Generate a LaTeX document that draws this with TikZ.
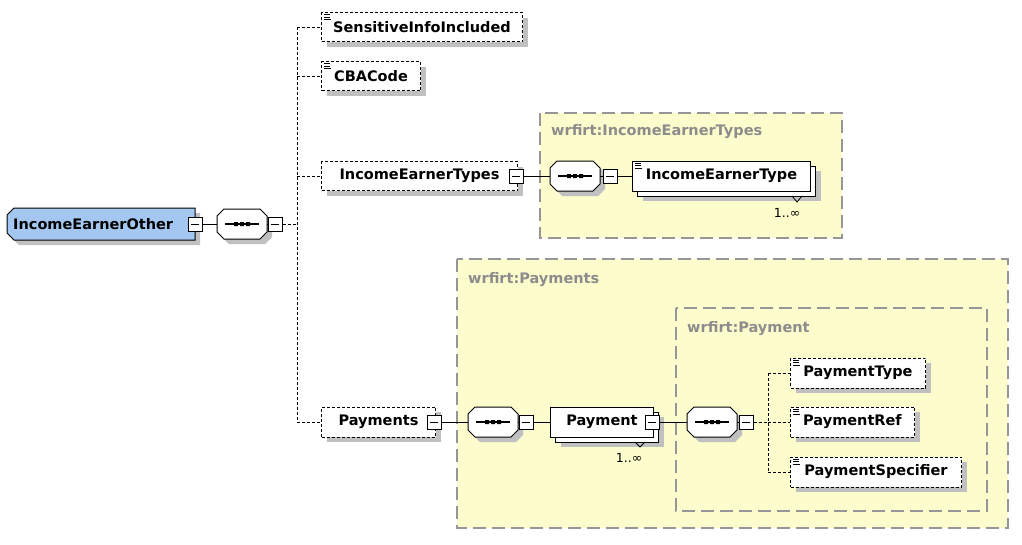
\documentclass[tikz,border=0pt]{standalone}
\usepackage{fontspec}
\setmainfont{DejaVu Sans}
\usetikzlibrary{calc}
\definecolor{ybg}{RGB}{252,252,204}
\definecolor{yborder}{RGB}{150,150,150}
\definecolor{ylabel}{RGB}{140,140,140}
\definecolor{shadowc}{RGB}{192,192,192}
\definecolor{blueel}{RGB}{163,199,240}
\newcommand\seqbox[3]{%
  \begin{scope}[shift={(#2,#3)}]
    \fill[shadowc] (-18+5,-15+5) -- (18+5,-15+5) -- (25+5,-8+5) -- (25+5,8+5) -- (18+5,15+5) -- (-18+5,15+5) -- (-25+5,8+5) -- (-25+5,-8+5) -- cycle;
    \draw[line width=1pt, fill=white] (-18,-15) -- (18,-15) -- (25,-8) -- (25,8) -- (18,15) -- (-18,15) -- (-25,8) -- (-25,-8) -- cycle;
    \draw[line width=1.1pt] (-17,0) -- (17,0);
    \fill (-8,-2) rectangle (-4,2) (-2,-2) rectangle (2,2) (4,-2) rectangle (8,2);
  \end{scope}
  \node[inner sep=0pt, minimum width=50pt, minimum height=30pt] (#1) at (#2,#3) {};
}
\newcommand\simpleicon[1]{%
  \draw[line width=0.9pt] ([shift={(3pt,-2.5pt)}]#1.north west) -- ++(6pt,0)
    ([shift={(3pt,-5pt)}]#1.north west) -- ++(6pt,0)
    ([shift={(3pt,-7.5pt)}]#1.north west) -- ++(7pt,0);}
\begin{document}
\begin{tikzpicture}[x=1pt, y=-1pt,
  font=\fontsize{14.5}{17}\selectfont\bfseries,
  shadowed/.style={preaction={fill=shadowc, draw=none, transform canvas={xshift=5pt,yshift=-5pt}}},
  elem/.style={draw, fill=white, line width=1pt, minimum height=29pt, inner sep=0pt, anchor=west, shadowed},
  optel/.style={elem, dash pattern=on 3pt off 2pt},
  stackel/.style={draw, fill=white, line width=1pt, minimum height=30pt, inner sep=0pt, anchor=west},
  minusbox/.style={draw, fill=white, line width=1pt, minimum size=14pt, inner sep=0pt,
    path picture={\draw[line width=1pt] ([xshift=3pt]path picture bounding box.west) -- ([xshift=-3pt]path picture bounding box.east);}},
  solidconn/.style={line width=1pt},
  dashconn/.style={line width=1pt, dash pattern=on 3pt off 2pt},
  ybox/.style={fill=ybg, draw=yborder, line width=1.3pt, dash pattern=on 13pt off 6pt},
  ylab/.style={text=ylabel, anchor=west, inner sep=0pt},
  multlabel/.style={font=\fontsize{12.5}{14}\selectfont, inner sep=0pt},
  tri/.style={line width=0.8pt}
]
\useasboundingbox (0,0) rectangle (1022,544);
\fill[white] (0,0) rectangle (1022,544);

% containers
\draw[ybox] (540,113) rectangle (842,238);
\node[ylab] (t1) at (551,132) {wrfirt:IncomeEarnerTypes};
\draw[ybox] (457,259) rectangle (1008,528);
\node[ylab] (t2) at (468,280) {wrfirt:Payments};
\draw[ybox] (676,308) rectangle (987,511);
\node[ylab] (t3) at (687,329) {wrfirt:Payment};

% root element
\fill[shadowc] (7+7+5,208+5) -- (195+5,208+5) -- (195+5,240+5) -- (7+7+5,240+5) -- (7+5,233+5) -- (7+5,215+5) -- cycle;
\draw[line width=1pt, fill=blueel] (7+7,208) -- (195,208) -- (195,240) -- (7+7,240) -- (7,233) -- (7,215) -- cycle;
\node[anchor=west, inner xsep=6pt, inner ysep=0pt, text width=176pt, align=left, minimum height=32pt] (ieo) at (7,224) {IncomeEarnerOther};
\node[minusbox] (m0) at (195,224) {};
\seqbox{s0}{242}{224}
\node[minusbox] (m1) at (275,224) {};
\coordinate (j0) at (297,224);
\draw[solidconn] (m0.east) -- (s0.west);
\draw[solidconn] (s0.east) -- (m1.west);
\draw[dashconn] (m1.east) -- (j0);

% children of root sequence
\node[optel, minimum width=201pt] (e1) at (321,27) {SensitiveInfoIncluded};
\simpleicon{e1}
\node[optel, minimum width=99pt] (e2) at (321,76) {CBACode};
\simpleicon{e2}
\node[optel, minimum width=196pt] (e3) at (321,176) {IncomeEarnerTypes};
\node[optel, minimum width=114pt, minimum height=30pt] (e5) at (321,422) {Payments};

\draw[dashconn] (e1.west -| j0) -- (e5.west -| j0);
\draw[dashconn] (e1.west -| j0) -- (e1.west);
\draw[dashconn] (e2.west -| j0) -- (e2.west);
\draw[dashconn] (e3.west -| j0) -- (e3.west);
\draw[dashconn] (e5.west -| j0) -- (e5.west);

% IncomeEarnerTypes content
\node[minusbox] (m2) at (516,176) {};
\seqbox{s1}{575}{176}
\node[minusbox] (m3) at (610,176) {};
\node[stackel, minimum width=178pt, shadowed] (e4b) at (637,181) {};
\node[stackel, minimum width=178pt] (e4) at (632,176) {IncomeEarnerType};
\simpleicon{e4}
\draw[tri] (792,196) -- (797,202) -- (802,196);
\node[multlabel] (u1) at (787,213) {1..∞};
\draw[solidconn] (m2.east) -- (s1.west);
\draw[solidconn] (s1.east) -- (m3.west);
\draw[solidconn] (m3.east) -- (e4.west);

% Payments content
\node[minusbox] (m4) at (434,422) {};
\seqbox{s2}{493}{422}
\node[minusbox] (m5) at (526,422) {};
\node[stackel, minimum width=103pt, shadowed] (e6b) at (555,427) {};
\node[stackel, minimum width=103pt] (e6) at (550,422) {Payment};
\node[minusbox] (m6) at (652,422) {};
\draw[tri] (635,442) -- (640,447) -- (645,442);
\node[multlabel] (u2) at (629,458) {1..∞};
\draw[solidconn] (m4.east) -- (s2.west);
\draw[solidconn] (s2.east) -- (m5.west);
\draw[solidconn] (m5.east) -- (e6.west);

% Payment content
\seqbox{s3}{712}{422}
\node[minusbox] (m7) at (746,422) {};
\coordinate (j1) at (768,422);
\draw[solidconn] (m6.east) -- (s3.west);
\draw[solidconn] (s3.east) -- (m7.west);
\draw[dashconn] (m7.east) -- (j1);
\node[optel, minimum width=135pt, minimum height=30pt] (e7) at (790,373) {PaymentType};
\simpleicon{e7}
\node[optel, minimum width=124pt, minimum height=30pt] (e8) at (790,422) {PaymentRef};
\simpleicon{e8}
\node[optel, minimum width=171pt, minimum height=30pt] (e9) at (790,472) {PaymentSpecifier};
\simpleicon{e9}
\draw[dashconn] (e7.west -| j1) -- (e9.west -| j1);
\draw[dashconn] (e7.west -| j1) -- (e7.west);
\draw[dashconn] (e8.west -| j1) -- (e8.west);
\draw[dashconn] (e9.west -| j1) -- (e9.west);
\end{tikzpicture}
\end{document}
